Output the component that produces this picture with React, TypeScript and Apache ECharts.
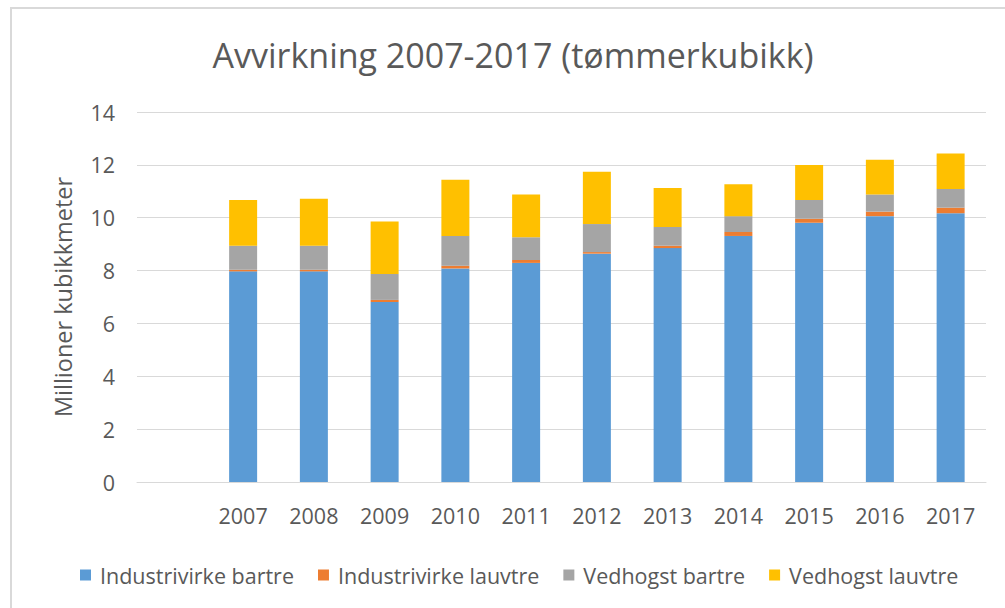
import React, { useEffect, useRef } from "react";
import * as echarts from "echarts";

const categories = ["", "2007", "2008", "2009", "2010", "2011", "2012", "2013", "2014", "2015", "2016", "2017"];
const seriesNames = ["Industrivirke bartre", "Industrivirke lauvtre", "Vedhogst bartre", "Vedhogst lauvtre"];
const industriBartre = [null, 7.97, 7.97, 6.81, 8.08, 8.29, 8.64, 8.85, 9.31, 9.81, 10.06, 10.17];
const industriLauvtre = [null, 0.06, 0.06, 0.08, 0.1, 0.11, 0.06, 0.09, 0.15, 0.15, 0.17, 0.21];
const vedBartre = [null, 0.91, 0.91, 0.98, 1.13, 0.86, 1.06, 0.71, 0.6, 0.71, 0.65, 0.71];
const vedLauvtre = [null, 1.73, 1.78, 1.99, 2.13, 1.62, 1.98, 1.47, 1.21, 1.32, 1.31, 1.34];
const yTicks = { min: 0, max: 14, interval: 2 };
const colors = ["#5B9BD5", "#ED7D31", "#A5A5A5", "#FFC000"];

const FONT = "'Open Sans', sans-serif";
const TEXT = "#595959";

export default function App() {
  const ref = useRef<HTMLDivElement>(null);
  useEffect(() => {
    if (!ref.current) return;
    const chart = echarts.init(ref.current, null, { renderer: "svg" });
    const dataSets = [industriBartre, industriLauvtre, vedBartre, vedLauvtre];
    chart.setOption({
      animation: false,
      backgroundColor: "#ffffff",
      textStyle: { fontFamily: FONT },
      title: {
        text: "Avvirkning 2007-2017 (tømmerkubikk)",
        left: 508,
        textAlign: "center",
        top: 33,
        textStyle: { fontFamily: FONT, fontSize: 34, fontWeight: "normal", color: TEXT },
      },
      graphic: [
        {
          type: "rect",
          shape: { x: 11, y: 8, width: 1100, height: 700 },
          style: { fill: "none", stroke: "#D9D9D9", lineWidth: 2 },
          silent: true,
          z: -1,
        },
      ],
      legend: {
        data: seriesNames,
        left: 75,
        top: 559,
        itemWidth: 11,
        itemHeight: 11,
        itemGap: 24,
        icon: "rect",
        textStyle: { fontFamily: FONT, fontSize: 21.5, color: TEXT, padding: [0, 0, 0, 4] },
      },
      grid: { left: 137, right: 19, top: 112, bottom: 126, containLabel: false },
      xAxis: {
        type: "category",
        data: categories,
        axisLine: { lineStyle: { color: "#D9D9D9", width: 1 } },
        axisTick: { show: false },
        axisLabel: { fontFamily: FONT, fontSize: 21.5, color: TEXT, margin: 22, interval: 0 },
      },
      yAxis: {
        type: "value",
        min: yTicks.min,
        max: yTicks.max,
        interval: yTicks.interval,
        name: "Millioner kubikkmeter",
        nameLocation: "middle",
        nameGap: 62,
        nameTextStyle: { fontFamily: FONT, fontSize: 23.5, color: TEXT },
        axisLine: { show: false },
        axisTick: { show: false },
        axisLabel: { fontFamily: FONT, fontSize: 21.5, color: TEXT, margin: 22 },
        splitLine: { lineStyle: { color: "#D9D9D9", width: 1 } },
      },
      series: seriesNames.map((name, i) => ({
        name,
        type: "bar",
        stack: "total",
        barWidth: 28,
        data: dataSets[i],
        itemStyle: { color: colors[i] },
      })),
    });
    return () => chart.dispose();
  }, []);
  return (
    <div
      ref={ref}
      style={{ position: "absolute", left: 0, top: 0, width: 1005, height: 608 }}
    />
  );
}
